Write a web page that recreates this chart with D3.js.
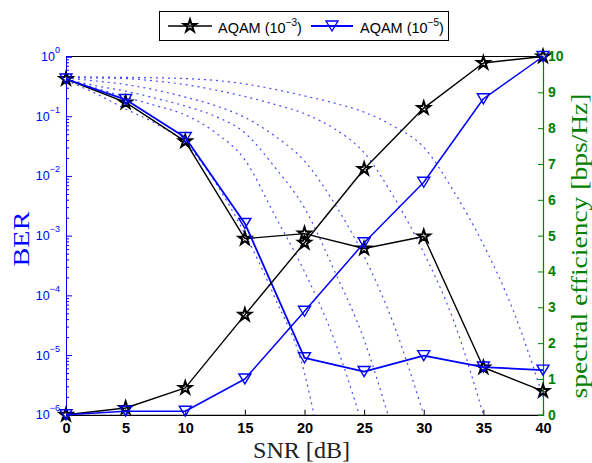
<!DOCTYPE html>
<html>
<head>
<meta charset="utf-8">
<script src="https://cdn.jsdelivr.net/npm/d3@7"></script>
<style>
  body { margin: 0; background: #fff; }
  svg { display: block; }
</style>
</head>
<body>
<svg id="chart" width="592" height="463"></svg>
<script>
// ---- measured AQAM results ----
const snr = [0, 5, 10, 15, 20, 25, 30, 35, 40];
const berAqam3 = [0.42, 0.17, 0.038, 8.9e-4, 1.08e-3, 6.1e-4, 9.7e-4, 6.2e-6, 2.5e-6];
const berAqam5 = [0.42, 0.19, 0.044, 1.6e-3, 9.0e-6, 5.3e-6, 9.8e-6, 6.3e-6, 5.6e-6];
const effAqam3 = [0, 0.19, 0.75, 2.79, 4.8, 6.86, 8.56, 9.82, 10];
const effAqam5 = [0, 0.1, 0.1, 1.0, 2.89, 4.8, 6.49, 8.82, 10];

// ---- fixed-rate QAM reference BER curves (dotted) ----
const qamSnr1 = [0, 2.5, 5, 7.5, 10, 12.5, 15, 17.5, 20, 20.8];
const qamBer1 = [0.398, 0.240, 0.132, 0.0759, 0.0355, 7.9e-3, 1.07e-3, 9.3e-5, 5.0e-6, 1.0e-6];
const qamSnr2 = [0, 2.5, 5, 7.5, 10, 12.5, 15, 17.5, 20, 22.5, 24.6];
const qamBer2 = [0.407, 0.295, 0.209, 0.151, 0.105, 0.0537, 0.0186, 2.2e-3, 2.5e-4, 1.8e-5, 1.0e-6];
const qamSnr3 = [0, 2.5, 5, 7.5, 10, 12.5, 15, 17.5, 20, 22.5, 25, 27];
const qamBer3 = [0.417, 0.324, 0.263, 0.200, 0.148, 0.100, 0.0525, 0.0141, 2.9e-3, 2.6e-4, 1.8e-5, 1.0e-6];
const qamSnr4 = [0, 2.5, 5, 7.5, 10, 12.5, 15, 17.5, 20, 22.5, 25, 27.5, 30];
const qamBer4 = [0.437, 0.389, 0.339, 0.275, 0.209, 0.151, 0.0955, 0.0468, 0.0178, 3.5e-3, 4.5e-4, 3.2e-5, 1.0e-6];
const qamSnr5 = [0, 2.5, 5, 7.5, 10, 12.5, 15, 17.5, 20, 22.5, 25, 27.5, 30, 32.5, 35];
const qamBer5 = [0.447, 0.437, 0.427, 0.389, 0.339, 0.275, 0.214, 0.158, 0.110, 0.0617, 0.0245, 4.4e-3, 5.2e-4, 3.8e-5, 1.0e-6];
const qamSnr6 = [0, 5, 10, 12.5, 15, 17.5, 20, 22.5, 25, 27.5, 30, 32.5, 35, 37.5, 40];
const qamBer6 = [0.457, 0.447, 0.427, 0.398, 0.347, 0.282, 0.219, 0.166, 0.117, 0.0676, 0.0302, 5.6e-3, 7.1e-4, 5.6e-5, 2.0e-6];

// ---- tick values ----
const snrTicks = [0, 5, 10, 15, 20, 25, 30, 35, 40];
const berDecades = [1e-6, 1e-5, 1e-4, 1e-3, 1e-2, 1e-1, 1];
const berExponents = ["\u22126", "\u22125", "\u22124", "\u22123", "\u22122", "\u22121", "0"];
const effTicks = [0, 1, 2, 3, 4, 5, 6, 7, 8, 9, 10];
const legendLabels = [["AQAM (10", "\u22123", ")"], ["AQAM (10", "\u22125", ")"]];

const BLUE = "#0000ff", GREEN = "#008000", BLACK = "#000000";
const plotL = 66, plotR = 543, plotT = 56.5, plotB = 414.8;

const svg = d3.select("#chart");

const x = d3.scaleLinear().domain([0, 40]).range([plotL, plotR]);
const yBer = d3.scaleLog().domain([1e-6, 1]).range([plotB, plotT]);
const yEff = d3.scaleLinear().domain([0, 10]).range([plotB, plotT]);

svg.append("defs").append("clipPath").attr("id", "plotClip")
  .append("rect").attr("x", plotL).attr("y", plotT)
  .attr("width", plotR - plotL).attr("height", plotB - plotT);

// ---- axes ----
const minorTicks = [];
for (let e = -6; e < 0; e++) for (let m = 2; m <= 9; m++) minorTicks.push(m * Math.pow(10, e));

// top border
svg.append("line").attr("x1", plotL).attr("x2", plotR).attr("y1", plotT).attr("y2", plotT)
  .attr("stroke", BLACK).attr("stroke-width", 1);

// bottom axis
const gx = svg.append("g").attr("transform", `translate(0,${plotB})`)
  .call(d3.axisBottom(x).tickValues(snrTicks).tickSize(-5).tickPadding(8).tickFormat(d3.format("d")));
gx.select(".domain").attr("stroke", BLACK).attr("stroke-width", 1.2);
gx.selectAll(".tick line").attr("stroke", BLACK);
gx.selectAll(".tick text").attr("font-family", "Liberation Sans, Arial, sans-serif")
  .attr("font-size", 14.5).attr("font-weight", "bold").attr("fill", BLACK);

// left log axis (BER)
const gyMinor = svg.append("g").attr("transform", `translate(${plotL},0)`)
  .call(d3.axisLeft(yBer).tickValues(minorTicks).tickSize(-3).tickFormat(""));
gyMinor.select(".domain").remove();
gyMinor.selectAll(".tick line").attr("stroke", BLUE);

const gy = svg.append("g").attr("transform", `translate(${plotL},0)`)
  .call(d3.axisLeft(yBer).tickValues(berDecades).tickSize(-6).tickPadding(6).tickFormat(""));
gy.select(".domain").attr("stroke", BLUE).attr("stroke-width", 1);
gy.selectAll(".tick line").attr("stroke", BLUE);
gy.selectAll(".tick text").each(function (d) {
  const t = d3.select(this)
    .attr("font-family", "Liberation Sans, Arial, sans-serif")
    .attr("fill", BLUE).attr("text-anchor", "end")
    .attr("x", -6).attr("dy", null).attr("y", 4);
  t.append("tspan").attr("font-size", 12.5).text("10");
  t.append("tspan").attr("font-size", 9).attr("dy", -8).text(berExponents[berDecades.indexOf(d)]);
});

// right linear axis (spectral efficiency)
const gr = svg.append("g").attr("transform", `translate(${plotR},0)`)
  .call(d3.axisRight(yEff).tickValues(effTicks).tickSize(-5).tickPadding(5).tickFormat(d3.format("d")));
gr.select(".domain").attr("stroke", GREEN).attr("stroke-width", 1.2);
gr.selectAll(".tick line").attr("stroke", GREEN);
gr.selectAll(".tick text").attr("font-family", "Liberation Sans, Arial, sans-serif")
  .attr("font-size", 14).attr("font-weight", "bold").attr("fill", GREEN);

// axis titles
svg.append("text").attr("x", (plotL + plotR) / 2 - 3).attr("y", 458)
  .attr("text-anchor", "middle").attr("font-family", "Liberation Serif, Times New Roman, serif")
  .attr("font-size", 23).attr("fill", "#222").attr("textLength", 97)
  .attr("lengthAdjust", "spacingAndGlyphs").text("SNR [dB]");

svg.append("text").attr("transform", "translate(28.5,239) rotate(-90)")
  .attr("text-anchor", "middle").attr("font-family", "Liberation Serif, Times New Roman, serif")
  .attr("font-size", 24).attr("fill", BLUE).attr("textLength", 55)
  .attr("lengthAdjust", "spacingAndGlyphs").text("BER");

svg.append("text").attr("transform", "translate(587,246) rotate(-90)")
  .attr("text-anchor", "middle").attr("font-family", "Liberation Serif, Times New Roman, serif")
  .attr("font-size", 23).attr("fill", GREEN).attr("textLength", 305)
  .attr("lengthAdjust", "spacingAndGlyphs").text("spectral efficiency [bps/Hz]");

// ---- dotted reference curves ----
const refCurves = [
  [qamSnr1, qamBer1], [qamSnr2, qamBer2], [qamSnr3, qamBer3],
  [qamSnr4, qamBer4], [qamSnr5, qamBer5], [qamSnr6, qamBer6]
];
const refLine = d3.line().x(d => x(d[0])).y(d => yBer(d[1])).curve(d3.curveMonotoneX);
const gRef = svg.append("g").attr("clip-path", "url(#plotClip)");
refCurves.forEach(([s, b]) => {
  gRef.append("path").datum(s.map((v, i) => [v, b[i]]))
    .attr("d", refLine).attr("fill", "none")
    .attr("stroke", "#2a2aff").attr("stroke-opacity", 0.85)
    .attr("stroke-width", 1.2).attr("stroke-dasharray", "2,4");
});

// ---- markers ----
function starPath(R) {
  const r = R * 0.382, pts = [];
  for (let k = 0; k < 10; k++) {
    const a = -Math.PI / 2 + k * Math.PI / 5, rad = k % 2 ? r : R;
    pts.push([rad * Math.cos(a), rad * Math.sin(a)]);
  }
  return "M" + pts.map(p => p.join(",")).join("L") + "Z";
}
const STAR = starPath(6.6);
const TRI = "M-6,-5L6,-5L0,5Z";

function drawSeries(values, yScale, color, width, marker, markerWidth) {
  const data = snr.map((s, i) => [s, values[i]]);
  const g = svg.append("g");
  g.append("path").datum(data)
    .attr("d", d3.line().x(d => x(d[0])).y(d => yScale(d[1])))
    .attr("fill", "none").attr("stroke", color).attr("stroke-width", width)
    .attr("stroke-linejoin", "round");
  g.selectAll("path.marker").data(data).join("path").attr("class", "marker")
    .attr("transform", d => `translate(${x(d[0])},${yScale(d[1])})`)
    .attr("d", marker).attr("fill", "none").attr("stroke", color)
    .attr("stroke-width", markerWidth).attr("stroke-linejoin", "miter");
}

drawSeries(berAqam3, yBer, BLACK, 1.4, STAR, 2);
drawSeries(berAqam5, yBer, BLUE, 1.8, TRI, 1.4);
drawSeries(effAqam3, yEff, BLACK, 1.4, STAR, 2);
drawSeries(effAqam5, yEff, BLUE, 1.5, TRI, 1.4);

// ---- legend ----
const lg = svg.append("g");
lg.append("rect").attr("x", 159.5).attr("y", 11.5).attr("width", 289).attr("height", 29)
  .attr("fill", "#fff").attr("stroke", BLACK).attr("stroke-width", 1);
const legendItems = [
  { x0: 168, x1: 212, tx: 218, color: BLACK, marker: STAR, w: 1.4, mw: 2 },
  { x0: 311, x1: 353, tx: 360, color: BLUE, marker: TRI, w: 1.8, mw: 1.4 }
];
legendItems.forEach((it, i) => {
  lg.append("line").attr("x1", it.x0).attr("x2", it.x1).attr("y1", 26).attr("y2", 26)
    .attr("stroke", it.color).attr("stroke-width", it.w);
  lg.append("path").attr("transform", `translate(${(it.x0 + it.x1) / 2},26)`)
    .attr("d", it.marker).attr("fill", "none").attr("stroke", it.color).attr("stroke-width", it.mw);
  const t = lg.append("text").attr("x", it.tx).attr("y", 33)
    .attr("font-family", "Liberation Sans, Arial, sans-serif").attr("font-size", 14.5).attr("fill", BLACK);
  t.append("tspan").text(legendLabels[i][0]);
  t.append("tspan").attr("font-size", 10).attr("dy", -7).text(legendLabels[i][1]);
  t.append("tspan").attr("dy", 7).text(legendLabels[i][2]);
});
</script>
</body>
</html>
